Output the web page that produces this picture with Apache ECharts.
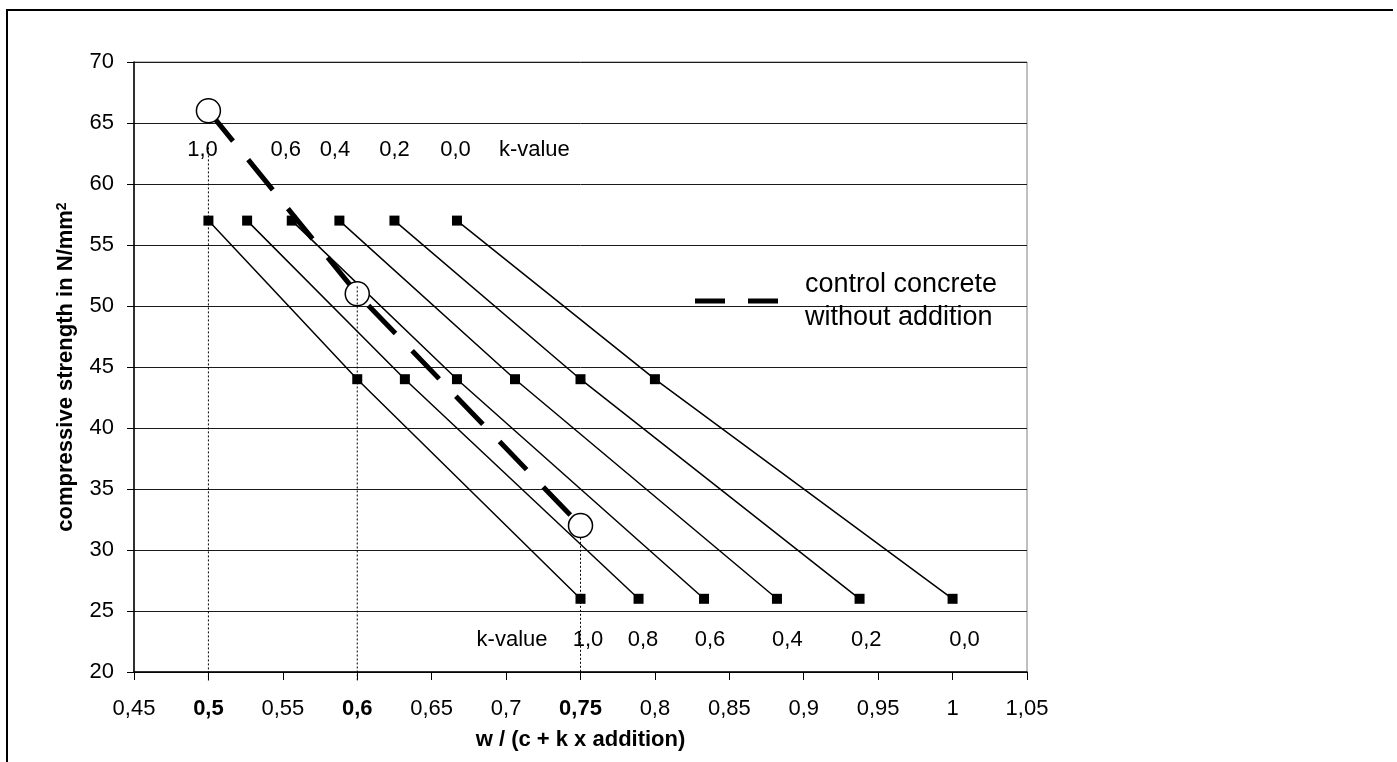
<!DOCTYPE html>
<html>
<head>
<meta charset="utf-8">
<script src="https://cdn.jsdelivr.net/npm/echarts@6/dist/echarts.min.js"></script>
<style>
  html, body { margin: 0; padding: 0; background: #fff; }
  #chart { width: 1397px; height: 762px; }
</style>
</head>
<body>
<div id="chart"></div>
<script>
// k-values of the fan, one line each
const kValues = ['1,0', '0,8', '0,6', '0,4', '0,2', '0,0']
const strengthLevels = [57, 44, 26]
const wTop = [0.5, 0.526, 0.556, 0.588, 0.625, 0.667]
const wMid = [0.6, 0.632, 0.667, 0.706, 0.75, 0.8]
const wBottom = [0.75, 0.789, 0.833, 0.882, 0.9375, 1.0]

// control concrete without addition
const controlName = 'control concrete\nwithout addition'
const controlW = [0.5, 0.6, 0.75]
const controlStrength = [66, 51, 32]

// dotted drop lines
const guideW = [0.5, 0.6, 0.75]
const guideTop = [63, 51.6, 31]
const guideBottom = 19.3

// k-value text in the plot
const topLabels = ['1,0', '0,6', '0,4', '0,2', '0,0', 'k-value']
const topLabelW = [0.496, 0.552, 0.585, 0.625, 0.666, 0.719]
const topLabelY = 62.8
const bottomLabels = ['k-value', '1,0', '0,8', '0,6', '0,4', '0,2', '0,0']
const bottomLabelW = [0.704, 0.755, 0.792, 0.837, 0.889, 0.942, 1.008]
const bottomLabelY = 22.6

// x ticks written in bold
const boldTicks = [0.5, 0.6, 0.75]

const font = 'Liberation Sans, Arial, sans-serif'

const chart = echarts.init(document.getElementById('chart'))

const series = []

kValues.forEach((k, i) => {
  series.push({
    name: 'k ' + k,
    type: 'line',
    data: [[wTop[i], strengthLevels[0]], [wMid[i], strengthLevels[1]], [wBottom[i], strengthLevels[2]]],
    symbol: 'rect',
    symbolSize: 10,
    itemStyle: { color: '#000' },
    lineStyle: { color: '#000', width: 1.5 },
    z: 3
  })
})

series.push({
  name: controlName,
  type: 'line',
  data: controlW.map((w, i) => [w, controlStrength[i]]),
  symbol: 'circle',
  symbolSize: 24,
  itemStyle: { color: '#fff', borderColor: '#000', borderWidth: 1.5 },
  lineStyle: { color: '#000', width: 5, type: [39, 24] },
  z: 4
})

guideW.forEach((w, i) => {
  series.push({
    name: 'guide ' + i,
    type: 'line',
    data: [[w, guideTop[i]], [w, guideBottom]],
    symbol: 'none',
    clip: false,
    lineStyle: { color: '#000', width: 1, type: [2, 2] },
    z: 5
  })
})

const annoLabel = {
  show: true,
  position: 'inside',
  formatter: '{b}',
  color: '#000',
  textBorderWidth: 0,
  fontSize: 22,
  fontFamily: font
}

series.push({
  name: 'top labels',
  type: 'scatter',
  symbolSize: 0,
  itemStyle: { color: '#000', opacity: 1 },
  data: topLabels.map((t, i) => ({ name: t, value: [topLabelW[i], topLabelY] })),
  label: annoLabel,
  z: 6
})

series.push({
  name: 'bottom labels',
  type: 'scatter',
  symbolSize: 0,
  itemStyle: { color: '#000', opacity: 1 },
  data: bottomLabels.map((t, i) => ({ name: t, value: [bottomLabelW[i], bottomLabelY] })),
  label: annoLabel,
  z: 6
})

chart.setOption({
  animation: false,
  backgroundColor: '#fff',
  textStyle: { fontFamily: font },
  graphic: [
    {
      type: 'polyline',
      shape: { points: [[7, 780], [7, 10], [1393, 10]] },
      style: { stroke: '#000', lineWidth: 2, fill: null }
    }
  ],
  grid: {
    left: 134,
    top: 62,
    width: 893,
    height: 610,
    show: true,
    borderColor: '#808080',
    borderWidth: 1
  },
  legend: {
    left: 695,
    top: 268,
    padding: 0,
    itemWidth: 83,
    itemHeight: 5,
    data: [{
      name: controlName,
      icon: 'path://M0,0H30V5H0Z M53,0H83V5H53Z',
      itemStyle: { color: '#000', borderWidth: 0 }
    }],
    textStyle: { fontSize: 27, lineHeight: 33, color: '#000', fontFamily: font, padding: [0, 0, 0, 22] }
  },
  xAxis: {
    type: 'value',
    min: 0.45,
    max: 1.05,
    interval: 0.05,
    name: 'w / (c + k x addition)',
    nameLocation: 'middle',
    nameGap: 57,
    nameTextStyle: { fontSize: 22, fontWeight: 'bold', color: '#000', fontFamily: font },
    axisLine: { lineStyle: { color: '#000', width: 1.5 } },
    axisTick: { show: true, length: 8, lineStyle: { color: '#000' } },
    splitLine: { show: false },
    axisLabel: {
      fontSize: 22,
      color: '#000',
      margin: 26,
      fontFamily: font,
      formatter: v => {
        const r = Math.round(v * 100) / 100
        const s = String(r).replace('.', ',')
        return boldTicks.indexOf(r) >= 0 ? '{b|' + s + '}' : s
      },
      rich: { b: { fontSize: 22, fontWeight: 'bold', color: '#000', fontFamily: font } }
    }
  },
  yAxis: {
    type: 'value',
    min: 20,
    max: 70,
    interval: 5,
    name: 'compressive strength in N/mm{sup|2}',
    nameLocation: 'middle',
    nameGap: 57,
    nameTextStyle: {
      fontSize: 22,
      fontWeight: 'bold',
      color: '#000',
      fontFamily: font,
      rich: {
        sup: { fontSize: 14, fontWeight: 'bold', color: '#000', verticalAlign: 'top', fontFamily: font }
      }
    },
    axisLine: { lineStyle: { color: '#000', width: 1.5 } },
    axisTick: { show: true, length: 7, lineStyle: { color: '#000' } },
    splitLine: { show: true, lineStyle: { color: '#1a1a1a', width: 1 } },
    axisLabel: { fontSize: 22, color: '#000', margin: 20, fontFamily: font }
  },
  series: series
})
</script>
</body>
</html>
